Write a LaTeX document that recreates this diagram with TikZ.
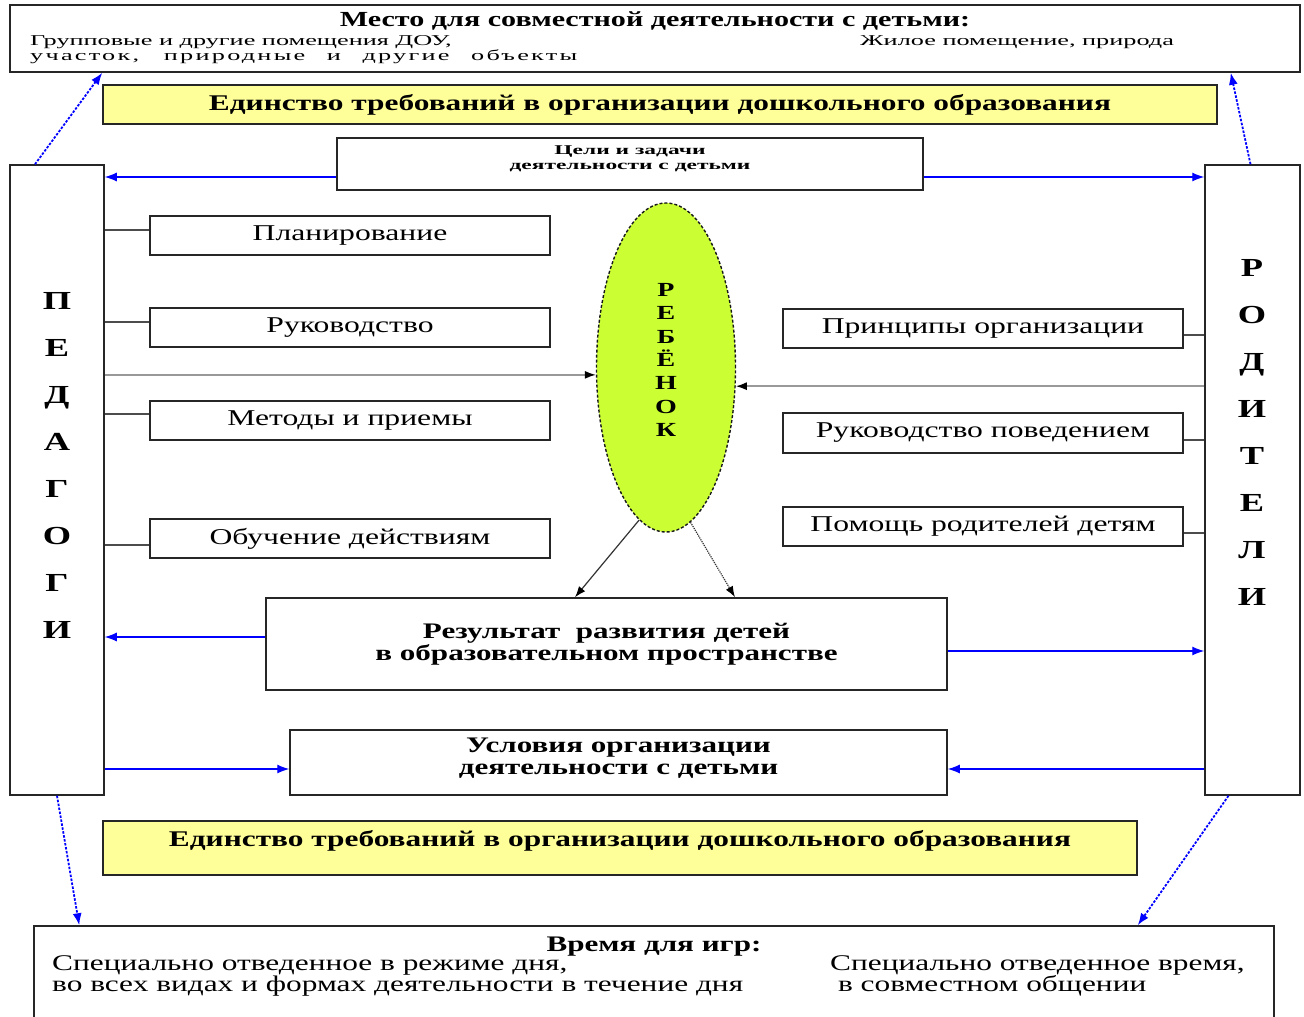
\documentclass[tikz,border=0pt]{standalone}
\usepackage{fontspec}
\setmainfont{Liberation Serif}
\newfontfamily\wf{Liberation Serif}[FakeStretch=1.4]
\newfontfamily\xwf{Liberation Serif}[FakeStretch=1.75]
\newfontfamily\lsf{Liberation Serif}[FakeStretch=1.75, LetterSpace=15]
\usetikzlibrary{positioning,shapes.geometric,arrows.meta}

\definecolor{lightyel}{RGB}{255,255,153}
\definecolor{childgreen}{RGB}{204,255,51}

\tikzset{
  box/.style={draw=black!85, line width=1.5pt, fill=white, inner sep=0pt},
  yel/.style={box, fill=lightyel},
  reg/.style={font=\wf\fontsize{22.6}{24}\selectfont},
  bld/.style={font=\wf\bfseries\fontsize{22.2}{22}\selectfont},
  sub/.style={font=\xwf\fontsize{15}{15}\selectfont, inner sep=0pt},
  vlet/.style={font=\wf\bfseries\fontsize{26}{47}\selectfont, align=center, inner sep=0pt},
  link/.style={draw=black!70, line width=1.2pt},
  grayarr/.style={draw=black!40, line width=1.6pt, -{Latex[length=11pt,width=8pt,black]}},
  blackarr/.style={draw=black!80, line width=1.2pt, -{Latex[length=11pt,width=8pt,black]}},
  bluearr/.style={draw=blue, line width=1.2pt, -{Latex[length=12pt,width=9pt]}},
  bluedot/.style={bluearr, line width=1.8pt, dash pattern=on 2.5pt off 1.5pt}
}

\begin{document}
\begin{tikzpicture}[x=1pt,y=-1pt]
\clip (0,0) rectangle (1304,1017);
\fill[white] (0,0) rectangle (1304,1017);

% top: place
\node[box, minimum width=1290pt, minimum height=67pt] (mesto) at (655,38.5) {};
\node[font=\wf\bfseries\fontsize{21.5}{22}\selectfont, inner sep=0pt, below=7pt of mesto.north] (mestoT)
  {Место для совместной деятельности с детьми:};
\node[sub, anchor=north west, align=left] (mestoL) at (30,35)
  {Групповые и другие помещения ДОУ,\\{\lsf\makebox[547pt][s]{участок, природные и другие объекты}}};
\node[sub, anchor=north west] (mestoR) at (860,35) {Жилое помещение, природа};

\node[yel, minimum width=1114pt, minimum height=39pt, font=\wf\bfseries\fontsize{22.4}{22}\selectfont] (ed1) at (660,104.5)
  {Единство требований в организации дошкольного образования};

% sides
\node[box, minimum width=94pt, minimum height=630pt] (ped) at (57,480) {};
\node[vlet] (pedT) at (57,465) {П\\Е\\Д\\А\\Г\\О\\Г\\И};
\node[box, minimum width=95pt, minimum height=630pt] (rod) at (1252.5,480) {};
\node[vlet] (rodT) at (1252,432) {Р\\О\\Д\\И\\Т\\Е\\Л\\И};

% goals
\node[box, minimum width=586pt, minimum height=52pt] (tseli) at (630,164) {};
\node[align=center, inner sep=0pt, font=\xwf\bfseries\fontsize{13.4}{15}\selectfont,
      below=8pt of tseli.north] (tseliT) {Цели и задачи\\деятельности с детьми};

% child
\node[ellipse, draw=black!90, densely dashed, line width=1.4pt, fill=childgreen,
      minimum width=139pt, minimum height=329pt, inner sep=0pt] (reb) at (666,367.5) {};
\node[align=center, inner sep=0pt, font=\wf\bfseries\fontsize{20}{23.3}\selectfont] (rebT) at (666,360)
  {Р\\Е\\Б\\Ё\\Н\\О\\К};

% left boxes
\node[box, reg, minimum width=400pt, minimum height=39pt] (plan) at (350,235.5) {Планирование};
\node[box, reg, minimum width=400pt, minimum height=39pt] (ruk) at (350,327.5) {Руководство};
\node[box, reg, minimum width=400pt, minimum height=39pt] (met) at (350,420.5) {Методы и приемы};
\node[box, reg, minimum width=400pt, minimum height=39pt] (obu) at (350,538.5) {Обучение действиям};

% right boxes
\node[box, reg, minimum width=400pt, minimum height=39pt] (prin) at (983,328.5) {Принципы организации};
\node[box, reg, minimum width=400pt, minimum height=40pt] (rpov) at (983,433) {Руководство поведением};
\node[box, reg, minimum width=400pt, minimum height=39pt] (pom) at (983,526.5) {Помощь родителей детям};

% result and conditions
\node[box, bld, minimum width=681pt, minimum height=92pt, align=center] (res) at (606.5,644)
  {Результат\ \ развития детей\\в образовательном пространстве};
\node[box, minimum width=657pt, minimum height=65pt] (usl) at (618.5,762.5) {};
\node[bld, align=center, inner sep=0pt, below=9pt of usl.north] (uslT)
  {Условия организации\\деятельности с детьми};

\node[yel, minimum width=1034pt, minimum height=54pt] (ed2) at (620,848) {};
\node[font=\wf\bfseries\fontsize{22.4}{22}\selectfont, below=7pt of ed2.north] (ed2T)
  {Единство требований в организации дошкольного образования};

% bottom: time
\node[box, minimum width=1240pt, minimum height=110pt] (vremya) at (654,981) {};
\node[bld, below=8pt of vremya.north] (vremyaT) {Время для игр:};
\node[font=\wf\fontsize{22.4}{20}\selectfont, anchor=north west, align=left, inner sep=0pt] (vremyaL) at (52,955)
  {Специально отведенное в режиме дня,\\во всех видах и формах деятельности в течение дня};
\node[font=\wf\fontsize{22.4}{20}\selectfont, anchor=north west, align=left, inner sep=0pt] (vremyaR) at (830,955)
  {Специально отведенное время,\\\ в совместном общении};

% connectors
\draw[bluedot] ([xshift=-22pt]ped.north) -- ([xshift=93pt]mesto.south west);
\draw[bluedot] ([xshift=-2pt]rod.north) -- ([xshift=-70pt]mesto.south east);
\draw[bluedot] (ped.south) -- ([xshift=46pt]vremya.north west);
\draw[bluedot] ([xshift=-24pt]rod.south) -- ([xshift=-137pt]vremya.north east);

\draw[bluearr] ([yshift=-13pt]tseli.west) -- ([yshift=-13pt]tseli.west -| ped.east);
\draw[bluearr] ([yshift=-13pt]tseli.east) -- ([yshift=-13pt]tseli.east -| rod.west);

\draw[link] ([yshift=5.5pt]plan.west -| ped.east) -- ([yshift=5.5pt]plan.west);
\draw[link] ([yshift=5.5pt]ruk.west -| ped.east) -- ([yshift=5.5pt]ruk.west);
\draw[link] ([yshift=6.5pt]met.west -| ped.east) -- ([yshift=6.5pt]met.west);
\draw[link] ([yshift=-6.5pt]obu.west -| ped.east) -- ([yshift=-6.5pt]obu.west);

\draw[link] ([yshift=-6.5pt]prin.east) -- ([yshift=-6.5pt]prin.east -| rod.west);
\draw[link] ([yshift=-7pt]rpov.east) -- ([yshift=-7pt]rpov.east -| rod.west);
\draw[link] ([yshift=-6.5pt]pom.east) -- ([yshift=-6.5pt]pom.east -| rod.west);

\draw[grayarr] (reb.186 -| ped.east) -- (reb.186);
\draw[grayarr] (reb.345 -| rod.west) -- (reb.345);

\draw[blackarr] (reb.260) -- ([xshift=-31.5pt]res.north);
\draw[blackarr, densely dotted] (reb.279) -- ([xshift=128.5pt]res.north);

\draw[bluearr] ([yshift=7pt]res.west) -- ([yshift=7pt]res.west -| ped.east);
\draw[bluearr] ([yshift=-7pt]res.east) -- ([yshift=-7pt]res.east -| rod.west);

\draw[bluearr] ([yshift=-6.5pt]usl.west -| ped.east) -- ([yshift=-6.5pt]usl.west);
\draw[bluearr] ([yshift=-6.5pt]usl.east -| rod.west) -- ([yshift=-6.5pt]usl.east);
\end{tikzpicture}
\end{document}
